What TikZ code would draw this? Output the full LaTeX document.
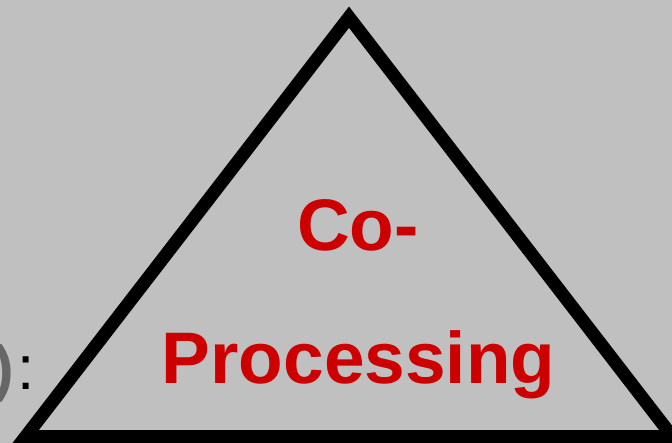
\documentclass[tikz,border=0pt]{standalone}
\usepackage{fontspec}
\setmainfont{Liberation Sans}
\definecolor{bggray}{RGB}{192,192,192}
\definecolor{titlered}{RGB}{204,0,0}
\definecolor{parengray}{RGB}{102,102,102}
\begin{document}
\begin{tikzpicture}[x=1pt,y=-1pt,
  tri/.style={draw=black,line width=13pt,line join=miter,miter limit=10},
  bigred/.style={text=titlered,font=\fontsize{73}{73}\selectfont\bfseries,inner sep=0pt},
  lefttext/.style={font=\fontsize{62}{62}\selectfont,inner sep=0pt}]
\fill[bggray] (0,0) rectangle (672,443);
\useasboundingbox (0,0) rectangle (672,443);
\coordinate (apex) at (349,17.2);
\coordinate (bl) at (25.7,436.5);
\coordinate (br) at (672.3,436.5);
\begin{scope}
\clip (0,0) rectangle (672,443);
\draw[tri] (apex) -- (bl) -- (br) -- cycle;
\node[lefttext,text=parengray,font=\fontsize{62}{62}\selectfont\bfseries,anchor=base east] (paren) at (14,390) {)};
\node[lefttext,anchor=base west] (colon) at (17,390) {:};
\end{scope}
\node[bigred,anchor=base] (co) at (358,251) {Co-};
\node[bigred,anchor=base] (proc) at (358.5,384) {Processing};
\end{tikzpicture}
\end{document}
